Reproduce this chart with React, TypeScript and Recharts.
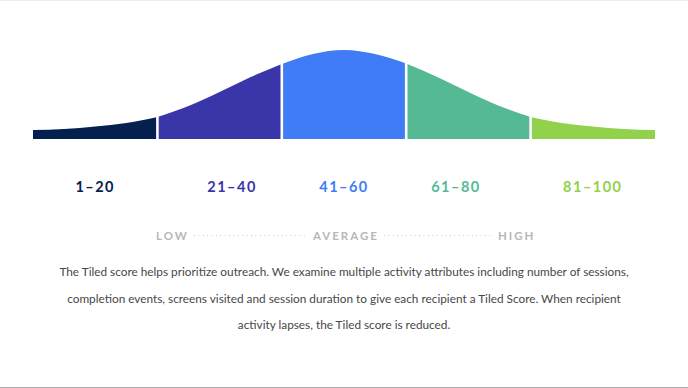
import React from "react";
import { AreaChart, Area, XAxis, YAxis, ReferenceLine } from "recharts";

// score positions along the curve and the curve height
const scores = [0, 5, 10, 15, 20, 25, 30, 35, 40, 45, 50, 55, 60, 65, 70, 75, 80, 85, 90, 95, 100];
const heights = [9, 10, 12.5, 16, 22, 33, 47, 62, 75, 85, 89, 85, 75.5, 62, 47, 33, 22, 16, 12.5, 10, 9];

const bandLabels = ["1\u201320", "21\u201340", "41\u201360", "61\u201380", "81\u2013100"];
const bandStarts = [0, 20, 40, 60, 80];
const bandEnds = [20, 40, 60, 80, 100];
const bandColors = ["#04204f", "#3a36aa", "#3f7cf5", "#55ba93", "#92d14b"];
const labelPositions = [10, 32, 50, 68, 90];
const scaleWords = ["LOW", "AVERAGE", "HIGH"];
const description = [
  "The Tiled score helps prioritize outreach. We examine multiple activity attributes including number of sessions,",
  "completion events, screens visited and session duration to give each recipient a Tiled Score. When recipient",
  "activity lapses, the Tiled score is reduced.",
];

const data = scores.map((s, i) => {
  const row: Record<string, number | null> = { score: s };
  bandStarts.forEach((b, k) => {
    row["b" + k] = s >= b && s <= bandEnds[k] ? heights[i] : null;
  });
  return row;
});

const Tick = (props: any) => {
  const { x, y, payload, index } = props;
  return (
    <text
      x={x}
      y={y + 39}
      textAnchor="middle"
      dominantBaseline="central"
      fill={bandColors[index]}
      style={{ fontFamily: "Lato", fontWeight: 700, fontSize: 14.5, letterSpacing: 1.5 }}
    >
      {bandLabels[labelPositions.indexOf(payload.value)]}
    </text>
  );
};

const Dots = ({ width }: { width: number }) => (
  <div
    style={{
      width,
      flexShrink: 0,
      height: 1,
      backgroundImage: "linear-gradient(to right, #c4c4c4 1px, transparent 1px)",
      backgroundSize: "4.4px 1px",
      margin: "0 5px",
    }}
  />
);

export default function App() {
  return (
    <div
      style={{
        position: "absolute",
        left: 0,
        top: 0,
        width: 688,
        height: 388,
        background: "#fff",
        borderTop: "1px solid #ececec",
        borderBottom: "1px solid #aaaaaa",
        boxSizing: "border-box",
        overflow: "hidden",
      }}
    >
      <div style={{ position: "absolute", left: 0, top: -1 }}>
        <AreaChart width={688} height={200} data={data} margin={{ top: 49, right: 33, bottom: 0, left: 33 }}>
          <XAxis
            dataKey="score"
            type="number"
            domain={[0, 100]}
            ticks={labelPositions}
            tick={<Tick />}
            axisLine={false}
            tickLine={false}
            height={61}
            interval={0}
          />
          <YAxis hide domain={[0, 90]} />
          {bandStarts.map((b, k) => (
            <Area
              key={k}
              dataKey={"b" + k}
              type="monotone"
              stroke="none"
              fill={bandColors[k]}
              fillOpacity={1}
              isAnimationActive={false}
              dot={false}
              activeDot={false}
            />
          ))}
          {bandStarts.slice(1).map((b) => (
            <ReferenceLine key={b} x={b} stroke="#ffffff" strokeWidth={2.6} />
          ))}
        </AreaChart>
      </div>
      <div
        style={{
          position: "absolute",
          left: 156,
          top: 227,
          width: 420,
          height: 14,
          display: "flex",
          alignItems: "center",
          fontFamily: "Lato",
          fontWeight: 700,
          fontSize: 11.5,
          letterSpacing: 2,
          color: "#b8b8b8",
          whiteSpace: "nowrap",
        }}
      >
        <span>{scaleWords[0]}</span>
        <Dots width={114} />
        <span>{scaleWords[1]}</span>
        <Dots width={109} />
        <span>{scaleWords[2]}</span>
      </div>
      <div
        style={{
          position: "absolute",
          left: 24,
          top: 258,
          width: 640,
          textAlign: "center",
          fontFamily: "Lato",
          fontWeight: 400,
          fontSize: 11.8,
          lineHeight: "26.5px",
          color: "#474747",
        }}
      >
        {description.map((line, i) => (
          <div key={i}>{line}</div>
        ))}
      </div>
    </div>
  );
}
